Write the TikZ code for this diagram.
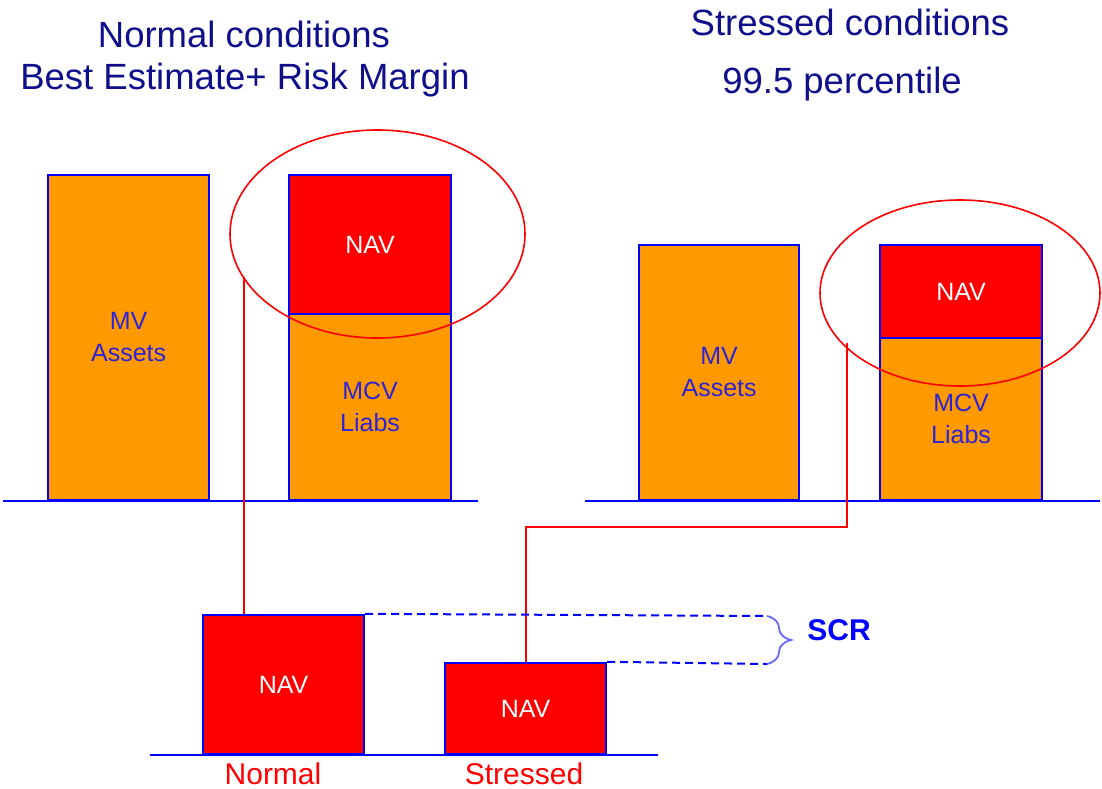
\documentclass[tikz,border=0pt]{standalone}
\usepackage{fontspec}
\setmainfont{Liberation Sans}
\usetikzlibrary{shapes.geometric,decorations.pathreplacing}
\definecolor{barorange}{RGB}{255,153,0}
\definecolor{navred}{RGB}{255,0,0}
\definecolor{edgeblue}{RGB}{0,0,255}
\definecolor{titleblue}{RGB}{15,15,140}
\definecolor{labelblue}{RGB}{45,35,215}
\tikzset{
  bar/.style={draw=edgeblue, line width=2.2pt, fill=barorange, inner sep=0pt,
    anchor=south west, text=labelblue, align=center,
    font=\fontsize{25}{32}\selectfont},
  navbox/.style={bar, fill=navred, text=white},
  ground/.style={draw=edgeblue, line width=2.6pt},
  redline/.style={draw=navred, line width=2pt},
  ring/.style={draw=navred, line width=1.6pt, ellipse, inner sep=0pt},
  dashline/.style={draw=edgeblue, line width=2pt, dash pattern=on 8pt off 5pt},
  title/.style={text=titleblue, font=\fontsize{36.5}{40}\selectfont, inner sep=0pt},
  caption/.style={text=navred, font=\fontsize{30}{34}\selectfont, inner sep=0pt}
}
\begin{document}
\begin{tikzpicture}[x=1pt,y=-1pt]
\fill[white] (0,0) rectangle (1102,789);
\useasboundingbox (0,0) rectangle (1102,789);
% titles
\node[title] (t1) at (244,34) {Normal conditions};
\node[title] (t2) at (245,80) {Best Estimate+ Risk Margin};
\node[title] (t3) at (850,22) {Stressed conditions};
\node[title] (t4) at (842,84) {99.5 percentile};
% left group
\node[bar, minimum width=161pt, minimum height=325pt] (mv1) at (47,501) {MV\\Assets};
\node[bar, minimum width=162pt, minimum height=186pt] (mcv1) at (288,501) {MCV\\Liabs};
\node[navbox, minimum width=162pt, minimum height=139pt] (nav1) at (288,315) {NAV};
\draw[ground] (3,501) -- (478,501);
\node[ring, minimum width=295pt, minimum height=208pt] (e1) at (377.5,234) {};
% right group
\node[bar, minimum width=160pt, minimum height=255pt] (mv2) at (638,501) {MV\\Assets};
\node[bar, minimum width=162pt, minimum height=162pt] (mcv2) at (879,501) {MCV\\Liabs};
\node[navbox, minimum width=162pt, minimum height=93pt] (nav2) at (879,339) {NAV};
\draw[ground] (585,501) -- (1100,501);
\node[ring, minimum width=280pt, minimum height=186pt] (e2) at (960,293) {};
% bottom group
\node[navbox, minimum width=161pt, minimum height=139pt] (nav3) at (202,755) {NAV};
\node[navbox, minimum width=161pt, minimum height=91pt] (nav4) at (444,755) {NAV};
\draw[ground] (150,755) -- (658,755);
\node[caption] (l3) at (273,774) {Normal};
\node[caption] (l4) at (524,774) {Stressed};
% connectors
\coordinate (c1) at (244,277);
\coordinate (c2) at (847,343);
\coordinate (k2) at (847,527);
\draw[redline] (c1) -- (c1 |- nav3.north);
\draw[redline] (c2) -- (k2) -| (nav4.north);
% SCR
\coordinate (b1) at (767,616);
\coordinate (b2) at (767,664);
\draw[dashline] (nav3.north east) -- (b1);
\draw[dashline] (nav4.north east) -- (b2);
\draw[draw=edgeblue!60, line width=1.8pt, decorate, decoration={brace, amplitude=24pt}] (b1) -- (b2);
\node[text=edgeblue, font=\fontsize{30}{34}\bfseries\selectfont, inner sep=0pt] (scr) at (839,630) {SCR};
\end{tikzpicture}
\end{document}
